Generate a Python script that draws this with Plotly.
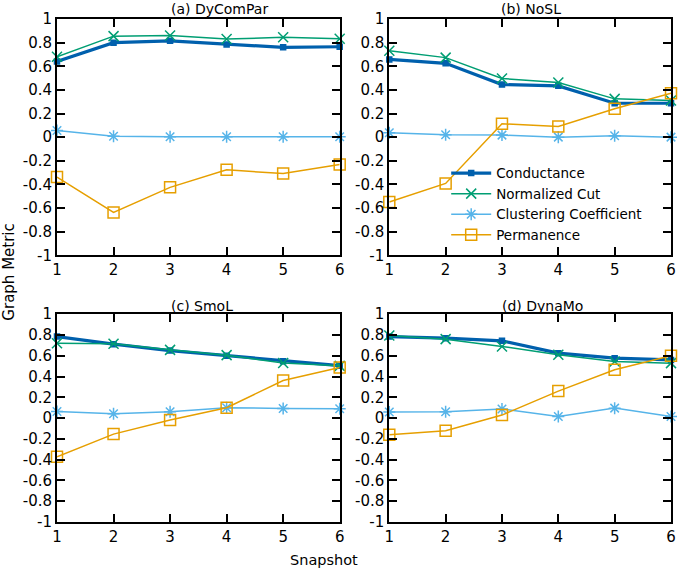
import plotly.graph_objects as go

snapshots = [1, 2, 3, 4, 5, 6]
panel_titles = ["(a) DyComPar", "(b) NoSL", "(c) SmoL", "(d) DynaMo"]
series_names = ["Conductance", "Normalized Cut", "Clustering Coefficient", "Permanence"]

dycompar_conductance = [0.64, 0.80, 0.815, 0.785, 0.76, 0.765]
dycompar_ncut = [0.68, 0.855, 0.86, 0.83, 0.845, 0.833]
dycompar_cc = [0.056, 0.008, 0.003, 0.003, 0.003, 0.003]
dycompar_perm = [-0.338, -0.638, -0.425, -0.277, -0.308, -0.232]

nosl_conductance = [0.658, 0.625, 0.445, 0.434, 0.287, 0.287]
nosl_ncut = [0.732, 0.673, 0.496, 0.462, 0.324, 0.31]
nosl_cc = [0.037, 0.02, 0.017, 0.0, 0.011, 0.0]
nosl_perm = [-0.549, -0.392, 0.113, 0.09, 0.24, 0.372]

smol_conductance = [0.785, 0.712, 0.65, 0.6, 0.548, 0.505]
smol_ncut = [0.72, 0.715, 0.657, 0.606, 0.53, 0.503]
smol_cc = [0.064, 0.042, 0.061, 0.1, 0.093, 0.09]
smol_perm = [-0.372, -0.154, -0.019, 0.1, 0.362, 0.487]

dynamo_conductance = [0.785, 0.769, 0.744, 0.625, 0.577, 0.56]
dynamo_ncut = [0.795, 0.76, 0.69, 0.609, 0.545, 0.529]
dynamo_cc = [0.058, 0.061, 0.087, 0.016, 0.096, 0.016]
dynamo_perm = [-0.16, -0.122, 0.029, 0.26, 0.465, 0.6]

y_tick_vals = [-1, -0.8, -0.6, -0.4, -0.2, 0, 0.2, 0.4, 0.6, 0.8, 1]
y_tick_text = ["-1", "-0.8", "-0.6", "-0.4", "-0.2", "0", "0.2", "0.4", "0.6", "0.8", "1"]

panels = [
    [dycompar_conductance, dycompar_ncut, dycompar_cc, dycompar_perm],
    [nosl_conductance, nosl_ncut, nosl_cc, nosl_perm],
    [smol_conductance, smol_ncut, smol_cc, smol_perm],
    [dynamo_conductance, dynamo_ncut, dynamo_cc, dynamo_perm],
]

colors = ["#0060ad", "#009e73", "#56b4e9", "#e69f00"]
line_widths = [3.2, 1.5, 1.5, 1.5]
symbols = ["square", "x-thin-open", "asterisk-open", "square-open"]
marker_sizes = [5, 10, 10, 11]

FONT = "DejaVu Sans"
W, H = 685, 571
# plot-area edges in window pixels
LEFT, RIGHT, TOP, BOTTOM = 57, 676, 18.5, 522
ml, mr = LEFT, W - RIGHT
mt, mb = TOP, H - BOTTOM
pw = RIGHT - LEFT
ph = BOTTOM - TOP

def px_x(p):
    return (p - LEFT) / pw

def px_y(p):
    return (BOTTOM - p) / ph

x_domains = [[0, px_x(342)], [px_x(392), 1], [0, px_x(342)], [px_x(392), 1]]
y_domains = [[px_y(255), 1], [px_y(255), 1], [0, px_y(314)], [0, px_y(314)]]

fig = go.Figure()
for i, series in enumerate(panels):
    xa = "x" if i == 0 else f"x{i+1}"
    ya = "y" if i == 0 else f"y{i+1}"
    for j, vals in enumerate(series):
        mk = dict(symbol=symbols[j], size=marker_sizes[j], color=colors[j],
                  line=dict(color=colors[j], width=1.5))
        fig.add_trace(go.Scatter(
            x=snapshots, y=vals, mode="lines+markers", name=series_names[j],
            line=dict(color=colors[j], width=line_widths[j]),
            marker=mk, xaxis=xa, yaxis=ya, cliponaxis=False,
            legendgroup=series_names[j], showlegend=(i == 1),
        ))

axis_common = dict(showgrid=False, zeroline=False, showline=True, linecolor="black",
                   linewidth=2, mirror="ticks", ticks="inside", ticklen=8,
                   tickwidth=1.5, tickcolor="black",
                   tickfont=dict(family=FONT, size=15, color="black"))
layout = {}
for i in range(4):
    xk = "xaxis" if i == 0 else f"xaxis{i+1}"
    yk = "yaxis" if i == 0 else f"yaxis{i+1}"
    layout[xk] = dict(axis_common, domain=x_domains[i], range=[1, 6],
                      tickvals=snapshots, ticktext=[str(s) for s in snapshots],
                      anchor="y" if i == 0 else f"y{i+1}")
    layout[yk] = dict(axis_common, domain=y_domains[i], range=[-1, 1],
                      tickvals=y_tick_vals, ticktext=y_tick_text,
                      anchor="x" if i == 0 else f"x{i+1}")

title_pos = [(221, 8), (535, 8), (203, 306), (546, 306)]
annotations = []
for t, (tx, ty) in zip(panel_titles, title_pos):
    annotations.append(dict(text=t, x=px_x(tx), y=px_y(ty), xref="paper", yref="paper",
                            showarrow=False, xanchor="center", yanchor="middle",
                            font=dict(family=FONT, size=14, color="black")))
annotations.append(dict(text="Graph Metric", x=px_x(9), y=px_y(272), xref="paper", yref="paper",
                        showarrow=False, textangle=-90, xanchor="center", yanchor="middle",
                        font=dict(family=FONT, size=15, color="black")))
annotations.append(dict(text="Snapshot", x=px_x(326), y=px_y(560), xref="paper", yref="paper",
                        showarrow=False, xanchor="center", yanchor="middle",
                        font=dict(family=FONT, size=14.5, color="black")))

fig.update_layout(
    width=W, height=H, margin=dict(l=ml, r=mr, t=mt, b=mb, pad=0),
    paper_bgcolor="white", plot_bgcolor="white",
    annotations=annotations,
    legend=dict(x=px_x(652), y=px_y(204), xanchor="right", yanchor="middle",
                bgcolor="rgba(0,0,0,0)", font=dict(family=FONT, size=13.5, color="black"),
                tracegroupgap=0, itemwidth=40),
    **layout,
)

fig.write_html("out.html", config={"displayModeBar": False},
               post_script="document.body.style.margin='0';document.body.style.padding='0';")
